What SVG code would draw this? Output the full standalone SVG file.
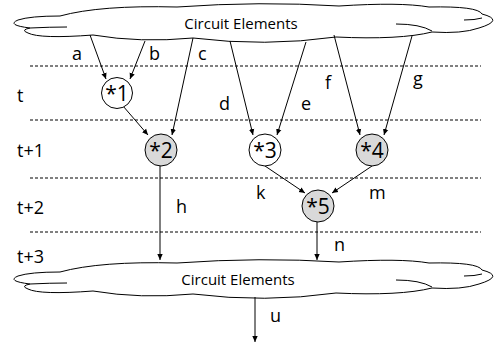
<svg xmlns="http://www.w3.org/2000/svg" width="499" height="347" viewBox="0 0 499 347">
<style>
.cloud{fill:#fff;stroke:#000;stroke-width:1}
.inner{fill:none;stroke:#000;stroke-width:1}
.dash{stroke:#000;stroke-width:1;stroke-dasharray:3,2}
.edge{fill:none;stroke:#000;stroke-width:1;marker-end:url(#ah)}
.node{stroke:#000;stroke-width:1}
.w{fill:#fff}
.g{fill:#d9d9d9}
text{font-family:"Open Sans","Noto Sans","Liberation Sans",sans-serif;fill:#000}
.lbl{font-size:18px}
.nt{font-size:21px;text-anchor:middle}
.ct{font-size:15px;text-anchor:middle}
</style>
<defs>
<marker id="ah" markerWidth="7" markerHeight="7" refX="6" refY="3.5" orient="auto" markerUnits="userSpaceOnUse">
<path d="M0,0.8 L6,3.5 L0,6.2 Z" fill="#000"/>
</marker>
<path id="cloudshape" d="M30,28 Q6,25 18,20 Q30,16 60,16 Q100,5 177,7 Q260,1 339,6 Q400,2 429,7 Q478,6 482,14 Q505,20 479,28 Q462,34 432,32 Q400,40 336,37 Q265,47 193,38 Q140,43 93,35 Q40,39 28,33 Q20,30 30,28 Z"/>
</defs>
<g id="gridlines">
<line class="dash" x1="30" y1="66" x2="481" y2="66"/>
<line class="dash" x1="30" y1="120" x2="481" y2="120"/>
<line class="dash" x1="30" y1="178" x2="481" y2="178"/>
<line class="dash" x1="30" y1="232" x2="481" y2="232"/>
</g>
<g id="cloud-top">
<use href="#cloudshape" class="cloud"/>
<path class="inner" d="M30,28 Q50,27 67,27"/>
<path class="inner" d="M396,24 Q420,24 432,31"/>
<path class="inner" d="M464,20 Q475,20 482,18"/>
<text class="ct" x="241" y="29">Circuit Elements</text>
</g>
<g id="cloud-bottom">
<use href="#cloudshape" class="cloud" transform="translate(0,256)"/>
<path class="inner" d="M30,284 Q50,283 67,283"/>
<path class="inner" d="M396,280 Q420,280 432,287"/>
<path class="inner" d="M464,276 Q475,276 482,274"/>
<text class="ct" x="238" y="285">Circuit Elements</text>
</g>
<g id="connectors">
<line class="edge" x1="90" y1="35" x2="106" y2="79"/>
<line class="edge" x1="145" y1="41" x2="130" y2="79"/>
<line class="edge" x1="193" y1="38" x2="172" y2="135"/>
<line class="edge" x1="123" y1="106" x2="148" y2="135"/>
<line class="edge" x1="230" y1="41" x2="253" y2="135"/>
<line class="edge" x1="306" y1="42" x2="277" y2="135"/>
<line class="edge" x1="334" y1="35" x2="360" y2="135"/>
<line class="edge" x1="412" y1="36" x2="384" y2="135"/>
<line class="edge" x1="265" y1="166" x2="305" y2="193"/>
<line class="edge" x1="372" y1="166" x2="332" y2="193"/>
<line class="edge" x1="160" y1="166" x2="160" y2="260"/>
<line class="edge" x1="317" y1="222" x2="317" y2="260"/>
<line class="edge" x1="255" y1="297" x2="255" y2="342"/>
</g>
<g id="n1"><circle class="node w" cx="117" cy="93" r="15.5"/><text class="nt" x="117" y="100.5">*1</text></g>
<g id="n2"><circle class="node g" cx="161" cy="150" r="16"/><text class="nt" x="161" y="157.5">*2</text></g>
<g id="n3"><circle class="node w" cx="265" cy="150" r="16"/><text class="nt" x="265" y="157.5">*3</text></g>
<g id="n4"><circle class="node g" cx="372" cy="150" r="16"/><text class="nt" x="372" y="157.5">*4</text></g>
<g id="n5"><circle class="node g" cx="318" cy="206" r="16"/><text class="nt" x="318" y="213.5">*5</text></g>
<g id="labels">
<text class="lbl" x="72" y="60">a</text>
<text class="lbl" x="149" y="60">b</text>
<text class="lbl" x="198" y="60">c</text>
<text class="lbl" x="219" y="110">d</text>
<text class="lbl" x="301" y="110">e</text>
<text class="lbl" x="325" y="89">f</text>
<text class="lbl" x="413" y="85">g</text>
<text class="lbl" x="176" y="213">h</text>
<text class="lbl" x="256" y="199">k</text>
<text class="lbl" x="369" y="199">m</text>
<text class="lbl" x="334" y="251">n</text>
<text class="lbl" x="270" y="322">u</text>
<text class="lbl" x="17" y="102">t</text>
<text class="lbl" x="17" y="157">t+1</text>
<text class="lbl" x="17" y="214">t+2</text>
<text class="lbl" x="17" y="263">t+3</text>
</g>
</svg>
